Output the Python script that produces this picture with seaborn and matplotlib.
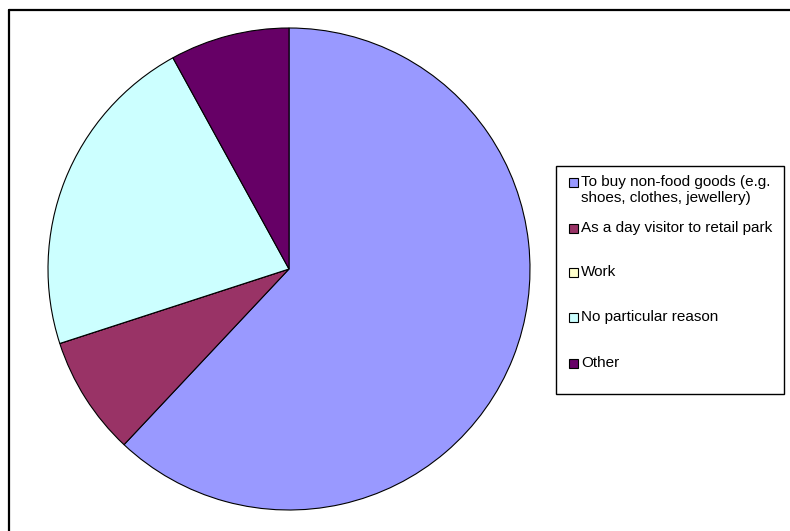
import matplotlib
matplotlib.use("Agg")
import matplotlib.pyplot as plt
from matplotlib.patches import Rectangle
from matplotlib.lines import Line2D
import seaborn as sns

# Reasons for visiting (share of respondents, %)
reasons = [
    "To buy non-food goods (e.g.\nshoes, clothes, jewellery)",
    "As a day visitor to retail park",
    "Work",
    "No particular reason",
    "Other",
]
shares = [62, 8, 0, 22, 8]
colors = ["#9999FF", "#993366", "#FFFFCC", "#CCFFFF", "#660066"]

sns.set_theme(style="white")
plt.rcParams["font.family"] = ["Liberation Sans", "DejaVu Sans"]
palette = sns.color_palette(colors)

W, H = 790, 531
fig = plt.figure(figsize=(W / 100, H / 100), dpi=100)
fig.patch.set_facecolor("white")

# pie area: centre (289, 269), radius 241 px
cx, cy, r = 289, 269, 241
ax = fig.add_axes([(cx - r) / W, (H - cy - r) / H, 2 * r / W, 2 * r / H])
ax.pie(shares, colors=palette, startangle=90, counterclock=False,
       wedgeprops=dict(edgecolor="black", linewidth=0.8))
ax.set_aspect("equal")
ax.set_xlim(-1, 1)
ax.set_ylim(-1, 1)
ax.axis("off")

def fx(x):
    return x / W

def fy(y):
    return 1 - y / H

# chart frame (top and left edges)
fig.add_artist(Line2D([fx(8.5), fx(W + 5)], [fy(9.5), fy(9.5)], color="black", lw=1.6))
fig.add_artist(Line2D([fx(8.5), fx(8.5)], [fy(9.5), fy(H + 5)], color="black", lw=1.6))

# legend box
lx0, ly0, lx1, ly1 = 556, 166, 784, 394
fig.add_artist(Rectangle((fx(lx0), fy(ly1)), fx(lx1) - fx(lx0), fy(ly0) - fy(ly1),
                         facecolor="white", edgecolor="black", lw=1.0))
entry_y = [182, 228, 272, 317, 363]
for label, col, y in zip(reasons, palette, entry_y):
    s = 9
    fig.add_artist(Rectangle((fx(569), fy(y + s / 2)), s / W, s / H,
                             facecolor=col, edgecolor="black", lw=0.8))
    fig.text(fx(581), fy(y - 7), label, fontsize=11, color="black",
             ha="left", va="top", linespacing=1.22)

fig.savefig("out.png", dpi=100, facecolor="white")
